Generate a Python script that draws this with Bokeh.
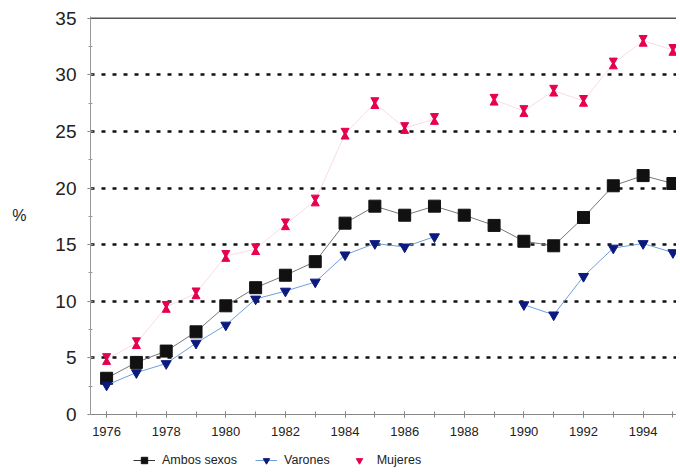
from bokeh.plotting import figure
from bokeh.layouts import column
from bokeh.models import (ColumnDataSource, Range1d, FixedTicker, Legend, LegendItem, Span)
from bokeh.embed import file_html
from bokeh.resources import INLINE

nan = float("nan")
years = list(range(1976, 1996))
ambos = [3.2, 4.6, 5.6, 7.3, 9.6, 11.2, 12.3, 13.5, 16.9, 18.4,
         17.6, 18.4, 17.6, 16.7, 15.3, 14.9, 17.4, 20.2, 21.1, 20.4]
varones = [2.6, 3.7, 4.5, 6.3, 7.9, 10.2, 10.9, 11.7, 14.1, 15.1,
           14.8, 15.7, nan, nan, 9.7, 8.8, 12.2, 14.7, 15.1, 14.3]
mujeres = [4.9, 6.3, 9.5, 10.7, 14.0, 14.6, 16.8, 18.9, 24.8, 27.5,
           25.3, 26.1, nan, 27.8, 26.8, 28.6, 27.7, 31.0, 33.0, 32.2]
x_ticks = list(range(1976, 1995, 2))
y_ticks = [0, 5, 10, 15, 20, 25, 30, 35]
grid_levels = [5, 10, 15, 20, 25, 30]
series_names = ["Ambos sexos", "Varones", "Mujeres"]

FONT = "Liberation Sans"
RED = "#e6004e"
NAVY = "#0c1a80"
LBLUE = "#6f9fd8"
DARK = "#111111"

src = ColumnDataSource(dict(
    x=years, ambos=ambos, varones=varones, mujeres=mujeres,
    muj_top=[m + 0.27 for m in mujeres], muj_bot=[m - 0.27 for m in mujeres],
))

p = figure(width=676, height=442, x_range=Range1d(1975.46, 1995.12),
           y_range=Range1d(0, 35.15), output_backend="svg", toolbar_location=None,
           min_border_left=90, min_border_right=0, min_border_top=16, min_border_bottom=28)
p.outline_line_color = None

# grid
p.xgrid.visible = False
p.ygrid.ticker = FixedTicker(ticks=grid_levels)
p.ygrid.grid_line_color = DARK
p.ygrid.grid_line_width = 2.5
p.ygrid.grid_line_dash = "4 7"
p.add_layout(Span(location=35, dimension="width", line_color="#555555", line_width=1.5))

# axes
p.xaxis.ticker = FixedTicker(ticks=x_ticks, minor_ticks=years)
p.xaxis.axis_line_color = "#888888"
p.xaxis.major_tick_line_color = "#666666"
p.xaxis.minor_tick_line_color = "#888888"
p.xaxis.major_tick_in = 3
p.xaxis.major_tick_out = 3
p.xaxis.minor_tick_in = 3
p.xaxis.minor_tick_out = 3
p.xaxis.major_label_standoff = 9
p.xaxis.major_label_text_font = FONT
p.xaxis.major_label_text_font_size = "13px"
p.xaxis.major_label_text_color = "#222222"

p.yaxis.ticker = FixedTicker(ticks=y_ticks, minor_ticks=[v / 2 for v in range(0, 71, 5)])
p.yaxis.axis_line_color = "#999999"
p.yaxis.major_tick_line_color = "#666666"
p.yaxis.minor_tick_line_color = "#999999"
p.yaxis.major_tick_in = 3
p.yaxis.major_tick_out = 3
p.yaxis.minor_tick_in = 2
p.yaxis.minor_tick_out = 2
p.yaxis.major_label_standoff = 11
p.yaxis.major_label_text_font = FONT
p.yaxis.major_label_text_font_size = "19px"
p.yaxis.major_label_text_color = "#222222"
p.yaxis.axis_label = "%"
p.yaxis.axis_label_orientation = "horizontal"
p.yaxis.axis_label_text_font = FONT
p.yaxis.axis_label_text_font_style = "normal"
p.yaxis.axis_label_text_font_size = "16px"
p.yaxis.axis_label_text_color = "#222222"
p.yaxis.axis_label_standoff = 26

# series
p.line("x", "ambos", source=src, line_color="#777777", line_width=1)
p.scatter("x", "ambos", source=src, marker="square", size=12,
          fill_color=DARK, line_color=DARK)
p.line("x", "varones", source=src, line_color=LBLUE, line_width=1)
p.scatter("x", "varones", source=src, marker="inverted_triangle", size=10,
          fill_color=NAVY, line_color=NAVY)
p.line("x", "mujeres", source=src, line_color=RED, line_width=1, line_alpha=0.15)
p.scatter("x", "muj_top", source=src, marker="inverted_triangle", size=8,
          fill_color=RED, line_color=RED)
p.scatter("x", "muj_bot", source=src, marker="triangle", size=8,
          fill_color=RED, line_color=RED)

# legend strip below the chart (its renderers use the same data, out of view)
lg = figure(width=676, height=30, x_range=Range1d(0, 1), y_range=Range1d(0, 1),
            output_backend="svg", toolbar_location=None, min_border=0,
            min_border_left=0, min_border_right=0, min_border_top=0, min_border_bottom=0,
            x_axis_location=None, y_axis_location=None)
lg.outline_line_color = None
lg.grid.visible = False
la = lg.line("x", "ambos", source=src, line_color="#333333", line_width=1)
sa = lg.scatter("x", "ambos", source=src, marker="square", size=12,
                fill_color=DARK, line_color=DARK)
lv = lg.line("x", "varones", source=src, line_color=LBLUE, line_width=1)
sv = lg.scatter("x", "varones", source=src, marker="inverted_triangle", size=10,
                fill_color=NAVY, line_color=NAVY)
mt = lg.scatter("x", "mujeres", source=src, marker="inverted_triangle", size=7,
                fill_color=RED, line_color=RED)

legend = Legend(items=[
    LegendItem(label=series_names[0], renderers=[la, sa]),
    LegendItem(label=series_names[1], renderers=[lv, sv]),
    LegendItem(label=series_names[2], renderers=[mt]),
], orientation="horizontal", location=(43, 4), border_line_color=None,
    background_fill_alpha=0, margin=0, padding=3, spacing=18,
    label_text_font=FONT, label_text_font_size="12.5px", label_text_color="#222222",
    glyph_width=22, glyph_height=16, label_height=16, label_standoff=7)
lg.add_layout(legend, "center")

open("out.html", "w").write(file_html(column(p, lg, spacing=0), INLINE))
